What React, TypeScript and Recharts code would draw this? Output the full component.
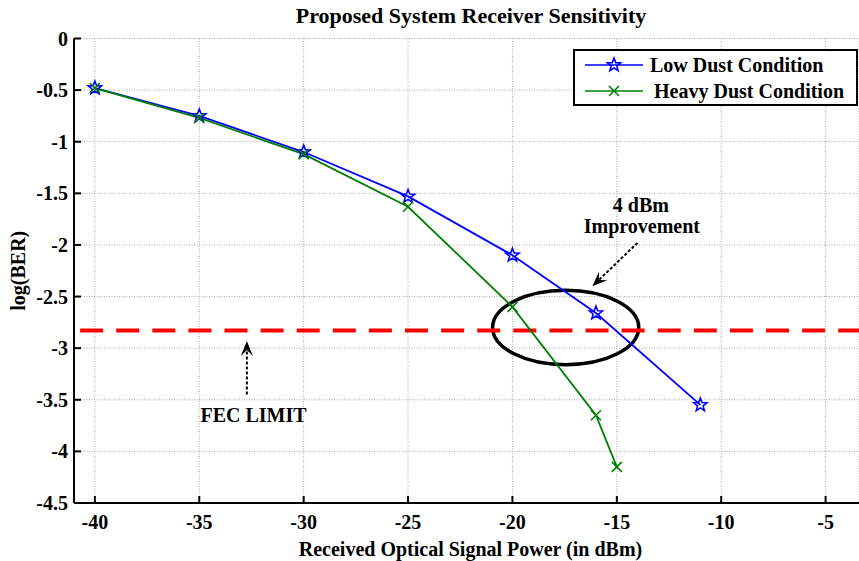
import React from "react";
import {
  LineChart,
  Line,
  XAxis,
  YAxis,
  CartesianGrid,
  Legend,
  ReferenceLine,
  ReferenceArea,
  ReferenceDot,
} from "recharts";

const xTicks = [-40, -35, -30, -25, -20, -15, -10, -5];
const yTicks = [0, -0.5, -1, -1.5, -2, -2.5, -3, -3.5, -4, -4.5];

const lowDustX = [-40, -35, -30, -25, -20, -16, -11];
const lowDustBer = [-0.48, -0.75, -1.1, -1.53, -2.1, -2.66, -3.55];

const heavyDustX = [-40, -35, -30, -25, -20, -16, -15];
const heavyDustBer = [-0.48, -0.77, -1.12, -1.63, -2.6, -3.65, -4.15];

const fecLimit = -2.83;

// ellipse round the crossing region: [x1, x2, y1, y2]
const improvementBox = [-20.95, -13.95, -3.16, -2.44];

const improvementArrow = [
  { x: -14.01, y: -1.98 },
  { x: -16.17, y: -2.4 },
];
const fecArrow = [
  { x: -32.72, y: -3.45 },
  { x: -32.72, y: -2.93 },
];

const notes = [
  { x: -13.85, y: -1.61, text: "4 dBm" },
  { x: -13.8, y: -1.82, text: "Improvement" },
  { x: -32.4, y: -3.65, text: "FEC LIMIT" },
];

const lowData = lowDustX.map((x, i) => ({ x, ber: lowDustBer[i] }));
const heavyData = heavyDustX.map((x, i) => ({ x, ber: heavyDustBer[i] }));

const FONT = "'Liberation Serif', 'Times New Roman', serif";
const FS = 20;

function starPath(cx: number, cy: number, r: number) {
  const pts: string[] = [];
  for (let i = 0; i < 10; i++) {
    const rad = i % 2 === 0 ? r : r * 0.42;
    const a = -Math.PI / 2 + (i * Math.PI) / 5;
    pts.push(`${cx + rad * Math.cos(a)},${cy + rad * Math.sin(a)}`);
  }
  return `M${pts.join("L")}Z`;
}

const StarDot = (props: any) => {
  const { cx, cy, index } = props;
  if (cx == null || cy == null) return null;
  return (
    <path
      key={`s${index}`}
      d={starPath(cx, cy, 7)}
      fill="none"
      stroke="#0000ff"
      strokeWidth={1.6}
    />
  );
};

const CrossDot = (props: any) => {
  const { cx, cy, index } = props;
  if (cx == null || cy == null) return null;
  const s = 5;
  return (
    <path
      key={`c${index}`}
      d={`M${cx - s},${cy - s}L${cx + s},${cy + s}M${cx - s},${cy + s}L${cx + s},${cy - s}`}
      stroke="#008000"
      strokeWidth={1.6}
    />
  );
};

const BottomTick = (props: any) => {
  const { x, y, payload } = props;
  return (
    <g>
      <line x1={x} y1={y} x2={x} y2={y - 7} stroke="#000" strokeWidth={2} />
      <text
        x={x}
        y={y + 19}
        textAnchor="middle"
        dominantBaseline="central"
        fontFamily={FONT}
        fontWeight="bold"
        fontSize={FS}
        fill="#000"
      >
        {payload.value}
      </text>
    </g>
  );
};

const TopTick = (props: any) => {
  const { x, y } = props;
  return <line x1={x} y1={y} x2={x} y2={y + 7} stroke="#000" strokeWidth={2} />;
};

const LeftTick = (props: any) => {
  const { x, y, payload } = props;
  return (
    <g>
      <line x1={x} y1={y} x2={x + 7} y2={y} stroke="#000" strokeWidth={2} />
      <text
        x={x - 6}
        y={y}
        textAnchor="end"
        dominantBaseline="central"
        fontFamily={FONT}
        fontWeight="bold"
        fontSize={FS}
        fill="#000"
      >
        {payload.value}
      </text>
    </g>
  );
};

const Arrow = (props: any) => {
  const { x1, y1, x2, y2 } = props;
  const dx = x2 - x1;
  const dy = y2 - y1;
  const len = Math.sqrt(dx * dx + dy * dy) || 1;
  const ux = dx / len;
  const uy = dy / len;
  const hl = 15;
  const hw = 6;
  const bx = x2 - ux * hl;
  const by = y2 - uy * hl;
  const nx = x2 - ux * hl * 0.6;
  const ny = y2 - uy * hl * 0.6;
  return (
    <g>
      <line
        x1={x1}
        y1={y1}
        x2={nx}
        y2={ny}
        stroke="#000"
        strokeWidth={2}
        strokeDasharray="3 2"
      />
      <path
        d={`M${x2},${y2}L${bx - uy * hw},${by + ux * hw}L${nx},${ny}L${bx + uy * hw},${by - ux * hw}Z`}
        fill="#000"
      />
    </g>
  );
};

const Ellipse = (props: any) => {
  const { x, y, width, height } = props;
  return (
    <ellipse
      cx={x + width / 2}
      cy={y + height / 2}
      rx={Math.abs(width) / 2}
      ry={Math.abs(height) / 2}
      fill="none"
      stroke="#000"
      strokeWidth={3.5}
    />
  );
};

const LegendBox = () => (
  <div
    style={{
      width: 285,
      height: 57,
      boxSizing: "border-box",
      border: "2px solid #000",
      background: "#fff",
      fontFamily: FONT,
      fontWeight: "bold",
      fontSize: FS,
      position: "relative",
    }}
  >
    <svg width={70} height={57} style={{ position: "absolute", left: 0, top: -2 }}>
      <line x1={10} y1={16} x2={68} y2={16} stroke="#0000ff" strokeWidth={1.6} />
      <path d={starPath(39, 16, 7)} fill="none" stroke="#0000ff" strokeWidth={1.6} />
      <line x1={10} y1={42} x2={68} y2={42} stroke="#008000" strokeWidth={1.6} />
      <path d="M34,37L44,47M34,47L44,37" stroke="#008000" strokeWidth={1.6} />
    </svg>
    <div style={{ position: "absolute", left: 75, top: 2, lineHeight: "24px" }}>
      Low Dust Condition
    </div>
    <div style={{ position: "absolute", left: 79, top: 28, lineHeight: "24px" }}>
      Heavy Dust Condition
    </div>
  </div>
);

export default function App() {
  return (
    <div
      style={{
        position: "absolute",
        left: 0,
        top: 0,
        width: 859,
        height: 561,
        background: "#fff",
      }}
    >
      <div
        style={{
          position: "absolute",
          top: 3,
          left: 0,
          width: 942,
          textAlign: "center",
          fontFamily: FONT,
          fontWeight: "bold",
          fontSize: 22,
          lineHeight: "26px",
        }}
      >
        Proposed System Receiver Sensitivity
      </div>
      <LineChart
        width={859}
        height={561}
        margin={{ top: 38.5, right: 0, bottom: 0, left: 0 }}
      >
        <CartesianGrid stroke="#a8a8a8" strokeDasharray="1 1.5" strokeWidth={1} />
        <XAxis
          type="number"
          dataKey="x"
          domain={[-41, -3.4]}
          allowDataOverflow
          ticks={xTicks}
          height={58}
          tickSize={0}
          tickMargin={0}
          tick={<BottomTick />}
          axisLine={{ stroke: "#000", strokeWidth: 2 }}
          tickLine={false}
          label={{
            content: (p: any) => {
              const vb = p.viewBox || {};
              return (
                <text
                  x={vb.x + vb.width / 2 + 4}
                  y={vb.y + 46}
                  textAnchor="middle"
                  dominantBaseline="central"
                  fontFamily={FONT}
                  fontWeight="bold"
                  fontSize={FS}
                  fill="#000"
                >
                  Received Optical Signal Power (in dBm)
                </text>
              );
            },
          }}
        />
        <XAxis
          xAxisId="top"
          orientation="top"
          type="number"
          dataKey="x"
          domain={[-41, -3.4]}
          allowDataOverflow
          ticks={xTicks}
          height={0}
          tickSize={0}
          tickMargin={0}
          tick={<TopTick />}
          axisLine={{ stroke: "#000", strokeWidth: 2 }}
          tickLine={false}
        />
        <YAxis
          type="number"
          domain={[-4.5, 0]}
          ticks={yTicks}
          width={74}
          tickSize={0}
          tickMargin={0}
          tick={<LeftTick />}
          axisLine={{ stroke: "#000", strokeWidth: 2 }}
          tickLine={false}
          label={{
            content: (p: any) => {
              const vb = p.viewBox || {};
              const cx = 18;
              const cy = vb.y + vb.height / 2;
              return (
                <text
                  x={cx}
                  y={cy}
                  transform={`rotate(-90 ${cx} ${cy})`}
                  textAnchor="middle"
                  dominantBaseline="central"
                  fontFamily={FONT}
                  fontWeight="bold"
                  fontSize={FS}
                  fill="#000"
                >
                  log(BER)
                </text>
              );
            },
          }}
        />
        <ReferenceLine
          y={fecLimit}
          stroke="#ff0000"
          strokeWidth={4}
          strokeDasharray="23 13.1"
          strokeDashoffset={30}
        />
        <Line
          data={lowData}
          dataKey="ber"
          name="Low Dust Condition"
          stroke="#0000ff"
          strokeWidth={1.8}
          dot={<StarDot />}
          activeDot={false}
          isAnimationActive={false}
        />
        <Line
          data={heavyData}
          dataKey="ber"
          name="Heavy Dust Condition"
          stroke="#008000"
          strokeWidth={1.8}
          dot={<CrossDot />}
          activeDot={false}
          isAnimationActive={false}
        />
        <ReferenceArea
          x1={improvementBox[0]}
          x2={improvementBox[1]}
          y1={improvementBox[2]}
          y2={improvementBox[3]}
          shape={<Ellipse />}
        />
        <ReferenceLine segment={improvementArrow} shape={<Arrow />} />
        <ReferenceLine segment={fecArrow} shape={<Arrow />} />
        {notes.map((n) => (
          <ReferenceDot
            key={n.text}
            x={n.x}
            y={n.y}
            r={0}
            shape={(p: any) => (
              <text
                x={p.cx}
                y={p.cy}
                textAnchor="middle"
                dominantBaseline="central"
                fontFamily={FONT}
                fontWeight="bold"
                fontSize={FS}
                fill="#000"
              >
                {n.text}
              </text>
            )}
          />
        ))}
        <Legend
          layout="vertical"
          align="center"
          verticalAlign="middle"
          wrapperStyle={{ top: 49, left: 573, width: 285 }}
          content={() => <LegendBox />}
        />
      </LineChart>
    </div>
  );
}
